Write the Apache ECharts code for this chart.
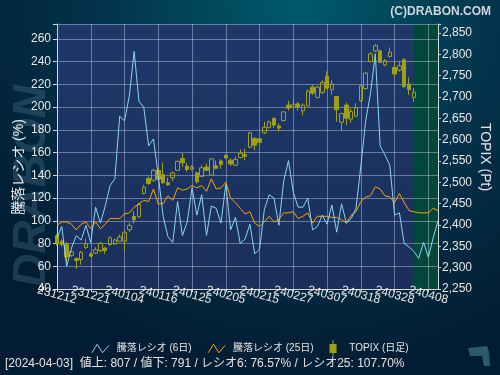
<!DOCTYPE html>
<html>
<head>
<meta charset="utf-8">
<script src="https://cdn.jsdelivr.net/npm/echarts@6/dist/echarts.min.js"></script>
<style>
html,body{margin:0;padding:0;background:#021f35;}
#chart{width:500px;height:375px;}
</style>
</head>
<body>
<div id="chart"></div>
<script>
// ---- categories (trading days) ----
const dates = [
 '231212','231213','231214','231215','231218','231219','231220','231221','231222','231225',
 '231226','231227','231228','231229','240104','240105','240109','240110','240111','240112',
 '240115','240116','240117','240118','240119','240122','240123','240124','240125','240126',
 '240129','240130','240131','240201','240202','240205','240206','240207','240208','240209',
 '240213','240214','240215','240216','240219','240220','240221','240222','240226','240227',
 '240228','240229','240301','240304','240305','240306','240307','240308','240311','240312',
 '240313','240314','240315','240318','240319','240321','240322','240325','240326','240327',
 '240328','240329','240401','240402','240403','240404','240405','240408','240409','240410'
];

// ---- 騰落レシオ (6日) ----
const ratio6 = [
 85, 95, 60, 76, 87, 83, 96, 81, 112, 98,
 113, 131, 137, 192, 188, 210, 249, 205, 200, 166,
 172, 140, 104, 86, 81, 117, 87, 99, 129, 105,
 123, 87, 113, 111, 98, 132, 92, 103, 80, 84,
 97, 71, 75, 110, 123, 120, 96, 135, 153, 125,
 112, 112, 120, 92, 95, 105, 97, 114, 90, 115,
 98, 102, 111, 148, 188, 212, 247, 166, 158, 149,
 105, 107, 80, 77, 73, 67, 81, 68, 85, 100
];

// ---- 騰落レシオ (25日) ----
const ratio25 = [
 96, 99, 99, 97, 92, 97, 99, 93, 99, 93,
 97, 102, 102, 102, 106, 107, 112, 115, 118, 117,
 128, 115, 115, 122, 118, 129, 127, 128, 131, 129,
 131, 126, 137, 128, 129, 134, 120, 116, 111, 106,
 108, 98, 95, 99, 104, 99, 101, 107, 107, 108,
 102, 104, 107, 98, 104, 104, 104, 103, 103, 101,
 98, 105, 108, 117, 121, 122, 130, 128, 122, 121,
 116, 124, 116, 109, 108, 107, 107, 107, 111, 109
];

// ---- TOPIX (日足) ----
const topixOpen = [
 2375,2362,2354,2328,2321,2319,2347,2332,2334,2340,
 2346,2354,2356,2362,2362,2389,2420,2419,2474,2509,
 2505,2528,2518,2499,2511,2528,2556,2538,2531,2522,
 2514,2536,2517,2539,2550,2563,2552,2540,2558,2565,
 2582,2603,2602,2616,2628,2650,2632,2645,2681,2676,
 2684,2668,2679,2723,2699,2711,2748,2717,2701,2641,
 2681,2648,2655,2691,2720,2783,2808,2808,2775,2795,
 2769,2763,2787,2730,2699
];
const topixClose = [
 2356,2354,2325,2337,2317,2336,2356,2327,2342,2357,
 2340,2370,2365,2372,2383,2399,2412,2448,2489,2497,
 2528,2507,2499,2494,2522,2549,2546,2530,2536,2501,
 2534,2528,2555,2533,2542,2557,2543,2554,2568,2561,
 2616,2587,2594,2629,2642,2634,2627,2665,2674,2683,
 2676,2681,2714,2709,2723,2734,2721,2730,2670,2661,
 2650,2666,2675,2726,2756,2801,2820,2781,2785,2805,
 2754,2773,2724,2717,2711
];
const topixLow = [
 2352,2349,2313,2325,2297,2307,2344,2325,2332,2336,
 2332,2352,2353,2360,2339,2383,2403,2417,2472,2494,
 2501,2505,2497,2492,2503,2527,2536,2525,2528,2497,
 2513,2527,2516,2530,2532,2555,2538,2538,2556,2552,
 2579,2575,2586,2613,2627,2627,2619,2643,2668,2673,
 2668,2657,2678,2705,2697,2707,2718,2705,2642,2620,
 2634,2640,2654,2689,2717,2781,2805,2779,2772,2793,
 2748,2759,2722,2705,2688
];
const topixHigh = [
 2378,2366,2360,2340,2325,2339,2368,2336,2348,2360,
 2348,2373,2368,2378,2387,2405,2433,2452,2494,2514,
 2532,2536,2546,2511,2525,2551,2569,2546,2540,2525,
 2540,2544,2557,2551,2554,2565,2556,2560,2577,2579,
 2619,2605,2605,2642,2645,2652,2638,2667,2691,2696,
 2688,2685,2717,2728,2726,2739,2760,2739,2703,2663,
 2687,2673,2685,2728,2758,2805,2824,2811,2789,2816,
 2781,2783,2791,2746,2721
];

// ---- tick labels ----
const leftTicks = [40,60,80,100,120,140,160,180,200,220,240,260];
const rightTicks = [2250,2300,2350,2400,2450,2500,2550,2600,2650,2700,2750,2800,2850];
const xTickLabels = ['231212','231221','240104','240116','240125','240205','240215','240227','240307','240318','240328','240408'];
// labels split over two axis layers so that overlapping neighbours are both kept
const xLabelsA = xTickLabels.filter((d, i) => i % 2 === 0);
const xLabelsB = xTickLabels.filter((d, i) => i % 2 === 1);

const futureStart = '240403';
const futureEnd = '240410';
const statusText = '[2024-04-03]  値上: 807 / 値下: 791 / レシオ6: 76.57% / レシオ25: 107.70%';

const FONT = "'Liberation Sans', 'Noto Sans CJK JP', sans-serif";
const candleData = topixOpen.map((o, i) => [o, topixClose[i], topixLow[i], topixHigh[i]]);

const chart = echarts.init(document.getElementById('chart'), null, {renderer: 'canvas'});
const gridColor = 'rgba(215,222,240,0.42)';
const axisColor = '#d8d8d8';
const olive = '#a0a018';

const xLabelBase = {rotate: -15, align: 'center', verticalAlign: 'middle', margin: 6,
  hideOverlap: false, color: '#e8e8e8', fontSize: 12, fontFamily: FONT};

const option = {
  animation: false,
  backgroundColor: {
    type: 'radial', x: 0.6, y: 0.0, r: 1.0,
    colorStops: [{offset: 0, color: '#005a6b'}, {offset: 0.55, color: '#03324a'}, {offset: 1, color: '#021d33'}]
  },
  textStyle: {fontFamily: FONT},
  title: {
    text: '(C)DRABON.COM', right: 4, top: 1,
    textStyle: {color: '#cfd5da', fontSize: 12, fontWeight: 'bold', fontFamily: FONT}
  },
  legend: {
    top: 335, left: 'center', itemWidth: 17, itemHeight: 17, itemGap: 16,
    formatter: n => ' ' + n,
    textStyle: {color: '#e4e4e4', fontSize: 10, fontFamily: FONT},
    data: [
      {name: '騰落レシオ (6日)', icon: 'path://M0,8 L5,0 L10,8 L16,1',
       itemStyle: {color: 'rgba(0,0,0,0)', borderColor: '#8ad4f0', borderWidth: 1}},
      {name: '騰落レシオ (25日)', icon: 'path://M0,8 L5,0 L10,8 L16,1',
       itemStyle: {color: 'rgba(0,0,0,0)', borderColor: '#ffa200', borderWidth: 1}},
      {name: 'TOPIX (日足)', icon: 'path://M3,0 L4,0 L4,4 L7,4 L7,13 L4,13 L4,17 L3,17 L3,13 L0,13 L0,4 L3,4 Z',
       itemStyle: {color: olive, borderWidth: 0}}
    ]
  },
  grid: {
    left: 57, right: 62, top: 24, bottom: 86, show: true, borderWidth: 0,
    backgroundColor: {type: 'linear', x: 0, y: 0, x2: 0, y2: 1,
      colorStops: [{offset: 0, color: '#1e386a'}, {offset: 1, color: '#1a2f5b'}]}
  },
  xAxis: [
    {
      type: 'category', data: dates, boundaryGap: false, z: 1.5, position: 'bottom',
      axisLine: {lineStyle: {color: axisColor}},
      axisTick: {interval: 6, length: 3, lineStyle: {color: axisColor}},
      axisLabel: Object.assign({}, xLabelBase, {
        interval: (i, v) => xLabelsA.indexOf(v) >= 0, showMinLabel: true}),
      splitLine: {show: true, interval: 6, lineStyle: {color: gridColor, width: 1}}
    },
    {
      type: 'category', data: dates, boundaryGap: false, z: 1.5, position: 'bottom', offset: 0,
      axisLine: {show: false}, axisTick: {show: false}, splitLine: {show: false},
      axisLabel: Object.assign({}, xLabelBase, {
        interval: (i, v) => xLabelsB.indexOf(v) >= 0, showMaxLabel: true})
    }
  ],
  yAxis: [
    {
      type: 'value', min: leftTicks[0], max: 273.2, interval: 20, z: 1.5,
      axisLine: {show: true, lineStyle: {color: axisColor}},
      axisTick: {show: true, length: 4, lineStyle: {color: axisColor}},
      axisLabel: {margin: 6, color: '#e8e8e8', fontSize: 12, fontFamily: FONT, showMinLabel: true,
        formatter: v => leftTicks.indexOf(v) >= 0 ? String(v) : ''},
      splitLine: {show: true, lineStyle: {color: gridColor, width: 1}}
    },
    {
      type: 'value', position: 'right', min: rightTicks[0], max: 2871, interval: 50, z: 1.5,
      axisLine: {show: true, lineStyle: {color: axisColor}},
      axisTick: {show: true, length: 3, lineStyle: {color: axisColor}},
      axisLabel: {margin: 4, color: '#e8e8e8', fontSize: 12, fontFamily: FONT, showMinLabel: true,
        formatter: v => rightTicks.indexOf(v) >= 0 ? v.toLocaleString('en-US') : ''},
      splitLine: {show: false}
    }
  ],
  series: [
    {
      name: 'future', type: 'line', data: [], z: 1, silent: true,
      markArea: {silent: true, itemStyle: {color: '#02473a'},
        data: [[{xAxis: futureStart}, {xAxis: futureEnd}]]}
    },
    {
      name: 'TOPIX (日足)', type: 'candlestick', yAxisIndex: 1, data: candleData, barWidth: 4,
      itemStyle: {color: 'rgba(0,0,0,0)', color0: olive, borderColor: olive, borderColor0: olive, borderWidth: 1}
    },
    {
      name: '騰落レシオ (25日)', type: 'line', yAxisIndex: 0, data: ratio25, showSymbol: false,
      lineStyle: {color: '#ffa200', width: 1}, itemStyle: {color: '#ffa200'}
    },
    {
      name: '騰落レシオ (6日)', type: 'line', yAxisIndex: 0, data: ratio6, showSymbol: false,
      lineStyle: {color: '#8ad4f0', width: 1}, itemStyle: {color: '#8ad4f0'}
    }
  ],
  graphic: [
    {type: 'text', x: 32, y: 186, rotation: Math.PI / 2, z: 0, silent: true,
      style: {text: 'DRABON', align: 'center', verticalAlign: 'middle',
        font: 'italic bold 46px ' + FONT, fill: 'rgba(110,160,180,0.24)'}},
    {type: 'text', x: 19, y: 167, rotation: Math.PI / 2, silent: true,
      style: {text: '騰落レシオ (%)', align: 'center', verticalAlign: 'middle',
        font: '14px ' + FONT, fill: '#e8e8e8'}},
    {type: 'text', x: 485, y: 157, rotation: -Math.PI / 2, silent: true,
      style: {text: 'TOPIX (Pt)', align: 'center', verticalAlign: 'middle',
        font: '14px ' + FONT, fill: '#e8e8e8'}},
    {type: 'text', x: 5, y: 364, silent: true,
      style: {text: statusText, align: 'left', verticalAlign: 'middle',
        font: '12px ' + FONT, fill: '#e4e4e4'}},
    {type: 'polygon', silent: true,
      shape: {points: [[468,348],[487,346],[489,352],[490,366],[484,366],[482,356],[470,356]]},
      style: {fill: '#2d5a6b'}}
  ]
};
chart.setOption(option);
</script>
</body>
</html>
